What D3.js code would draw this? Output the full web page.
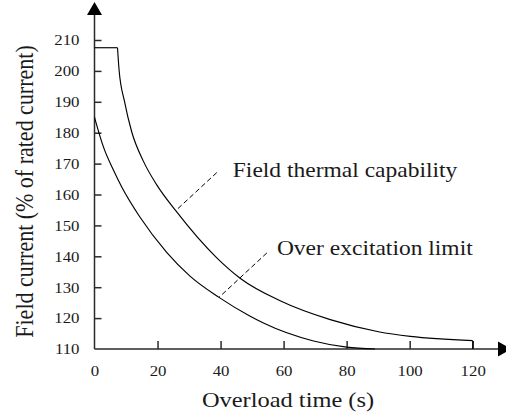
<!DOCTYPE html>
<html>
<head>
<meta charset="utf-8">
<script src="https://cdn.jsdelivr.net/npm/d3@7"></script>
<style>
  html, body { margin: 0; padding: 0; background: #fff; }
  svg { display: block; }
  text { font-family: "Liberation Serif", "Times New Roman", serif; fill: #1a1a1a; }
</style>
</head>
<body>
<svg id="chart" width="506" height="416"></svg>
<script>
// Field thermal capability: short-time plateau, decaying curve, then the 120 s end
const thermalPlateau = [[0, 207.5], [7.3, 207.5]];
const thermalCurve = [
  [7.3, 207.5], [7.8, 200.3], [9.5, 190.2], [11.8, 180.3], [15.5, 170.8],
  [19.7, 163.2], [25.9, 154.6], [38.8, 139.5], [46.2, 132.9], [58.9, 125.6],
  [74.8, 119.5], [90.1, 115.6], [100.2, 114.1], [120, 112.7]
];
const thermalEnd = [[120, 112.7], [120, 110]];

// Over excitation limiter characteristic
const oelCurve = [
  [0, 185], [2.8, 175.5], [6, 167.9], [8.6, 162.5], [14.4, 152.7],
  [22.9, 141.3], [30.3, 133.6], [39.5, 126.7], [49.4, 120.6], [53.6, 118.4],
  [69.5, 112.6], [80, 110.6], [89, 110]
];

const xTicks = [0, 20, 40, 60, 80, 100, 120];
const yTicks = [110, 120, 130, 140, 150, 160, 170, 180, 190, 200, 210];

// Curve labels with their leader lines (data coordinates)
const labels = [
  { text: "Field thermal capability", from: [38.8, 167.1], to: [25.8, 154.8] },
  { text: "Over excitation limit", from: [54.7, 141.1], to: [39.5, 126.7] }
];

const svg = d3.select("#chart");
const x = d3.scaleLinear().domain([0, 120]).range([94.5, 472.7]);
const y = d3.scaleLinear().domain([110, 210]).range([349, 40]);
const stretch = 1.12;
const axisColor = "#2a2a2a";

// Y axis with inward ticks
const gy = svg.append("g")
  .attr("transform", `translate(${x(0)},0)`)
  .call(d3.axisLeft(y).tickValues(yTicks).tickSizeInner(-7).tickSizeOuter(0).tickPadding(15))
  .attr("font-family", null).attr("font-size", null);
gy.select(".domain").remove();
gy.selectAll(".tick line").attr("stroke", axisColor).attr("stroke-width", 1.5)
  .filter(d => d === 110).remove();
gy.selectAll(".tick text")
  .attr("font-size", 15)
  .attr("x", 0).attr("transform", `translate(-15,0) scale(${stretch},1)`);

// X axis with upward ticks
const gx = svg.append("g")
  .attr("transform", `translate(0,${y(110)})`)
  .call(d3.axisBottom(x).tickValues(xTicks).tickSizeInner(-8).tickSizeOuter(0).tickPadding(16))
  .attr("font-family", null).attr("font-size", null);
gx.select(".domain").remove();
gx.selectAll(".tick line").attr("stroke", axisColor).attr("stroke-width", 1.5)
  .filter(d => d === 0).remove();
gx.selectAll(".tick text")
  .attr("font-size", 15)
  .attr("y", 0).attr("transform", `translate(0,16) scale(${stretch},1)`);

// Axis lines ending in arrowheads
const x0 = x(0), y0 = y(110);
svg.append("line").attr("x1", x0).attr("y1", y0).attr("x2", x0).attr("y2", 14)
  .attr("stroke", axisColor).attr("stroke-width", 1.5);
svg.append("line").attr("x1", x0).attr("y1", y0).attr("x2", 499).attr("y2", y0)
  .attr("stroke", axisColor).attr("stroke-width", 1.5);
svg.append("path").attr("d", `M${x0},2 L${x0 - 7.5},15 L${x0 + 7.5},15 Z`).attr("fill", "#000");
svg.append("path").attr("d", `M511,${y0} L498,${y0 - 7.5} L498,${y0 + 7.5} Z`).attr("fill", "#000");

// Curves
const straight = d3.line().x(d => x(d[0])).y(d => y(d[1]));
const smooth = d3.line().x(d => x(d[0])).y(d => y(d[1])).curve(d3.curveMonotoneX);
const curveStyle = p => p.attr("fill", "none").attr("stroke", "#000").attr("stroke-width", 1.15);

svg.append("path").attr("d", straight(thermalPlateau)).call(curveStyle);
svg.append("path").attr("d", smooth(thermalCurve)).call(curveStyle);
svg.append("path").attr("d", straight(thermalEnd)).call(curveStyle);
svg.append("path").attr("d", smooth(oelCurve)).call(curveStyle);

// Leader lines and curve names
labels.forEach(l => {
  svg.append("line")
    .attr("x1", x(l.from[0])).attr("y1", y(l.from[1]))
    .attr("x2", x(l.to[0])).attr("y2", y(l.to[1]))
    .attr("stroke", "#000").attr("stroke-width", 1).attr("stroke-dasharray", "5,3");
});
svg.append("text")
  .attr("transform", `translate(${x(38.8) + 16},${y(167.1) + 4}) scale(${stretch},1)`)
  .attr("font-size", 21).text(labels[0].text);
svg.append("text")
  .attr("transform", `translate(${x(54.7) + 10},${y(141.1) + 2}) scale(${stretch},1)`)
  .attr("font-size", 21).text(labels[1].text);

// Axis titles
svg.append("text")
  .attr("transform", `translate(288,407) scale(1.11,1)`)
  .attr("text-anchor", "middle").attr("font-size", 22)
  .text("Overload time (s)");
svg.append("text")
  .attr("transform", `translate(33,191.5) rotate(-90) scale(1,${stretch})`)
  .attr("text-anchor", "middle").attr("font-size", 22)
  .text("Field current (% of rated current)");
</script>
</body>
</html>
